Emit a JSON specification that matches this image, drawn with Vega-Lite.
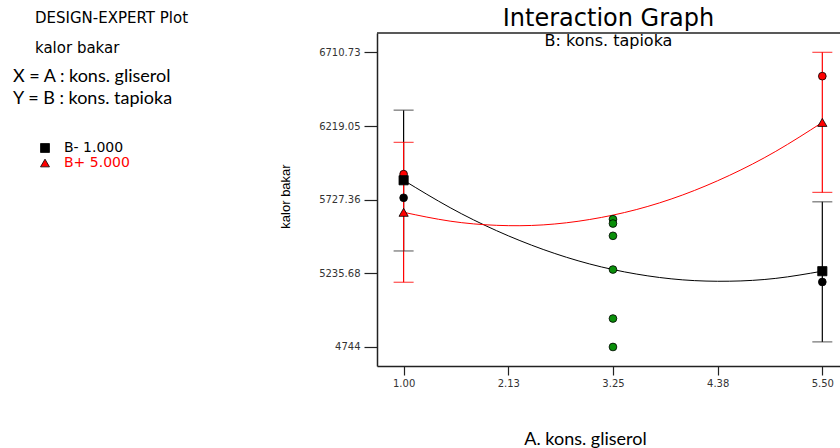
{
  "$schema": "https://vega.github.io/schema/vega-lite/v6.json",
  "width": 463,
  "height": 333,
  "autosize": "none",
  "padding": {"left": 377, "top": 33, "right": 0, "bottom": 82},
  "background": "white",
  "config": {"view": {"stroke": null}, "font": "DejaVu Sans"},
  "title": {
    "text": "Interaction Graph",
    "subtitle": "B: kons. tapioka",
    "anchor": "middle",
    "font": "DejaVu Sans",
    "fontSize": 24,
    "fontWeight": "normal",
    "color": "#000000",
    "subtitleFont": "DejaVu Sans",
    "subtitleFontSize": 16,
    "subtitleColor": "#000000",
    "subtitlePadding": 2,
    "offset": -38
  },
  "datasets": {
    "means": [
      {"A": 1, "B": "B- 1.000", "mean": 5857, "lo": 5385, "hi": 6325},
      {"A": 5.5, "B": "B- 1.000", "mean": 5250, "lo": 4778, "hi": 5713},
      {"A": 1, "B": "B+ 5.000", "mean": 5643, "lo": 5176, "hi": 6110},
      {"A": 5.5, "B": "B+ 5.000", "mean": 6243, "lo": 5776, "hi": 6711}
    ],
    "fit": [
      {"A": 1, "B": "B- 1.000", "kalor": 5857},
      {"A": 1.5, "B": "B- 1.000", "kalor": 5674},
      {"A": 2, "B": "B- 1.000", "kalor": 5520},
      {"A": 2.5, "B": "B- 1.000", "kalor": 5395},
      {"A": 3, "B": "B- 1.000", "kalor": 5298},
      {"A": 3.5, "B": "B- 1.000", "kalor": 5231},
      {"A": 4, "B": "B- 1.000", "kalor": 5192},
      {"A": 4.5, "B": "B- 1.000", "kalor": 5183},
      {"A": 5, "B": "B- 1.000", "kalor": 5202},
      {"A": 5.5, "B": "B- 1.000", "kalor": 5250},
      {"A": 1, "B": "B+ 5.000", "kalor": 5643},
      {"A": 1.5, "B": "B+ 5.000", "kalor": 5584},
      {"A": 2, "B": "B+ 5.000", "kalor": 5556},
      {"A": 2.5, "B": "B+ 5.000", "kalor": 5559},
      {"A": 3, "B": "B+ 5.000", "kalor": 5595},
      {"A": 3.5, "B": "B+ 5.000", "kalor": 5661},
      {"A": 4, "B": "B+ 5.000", "kalor": 5759},
      {"A": 4.5, "B": "B+ 5.000", "kalor": 5889},
      {"A": 5, "B": "B+ 5.000", "kalor": 6050},
      {"A": 5.5, "B": "B+ 5.000", "kalor": 6243}
    ],
    "obs": [
      {"A": 1, "kalor": 5740, "grp": "B-"},
      {"A": 5.5, "kalor": 5178, "grp": "B-"},
      {"A": 1, "kalor": 5898, "grp": "B+"},
      {"A": 5.5, "kalor": 6552, "grp": "B+"},
      {"A": 3.25, "kalor": 5597, "grp": "center"},
      {"A": 3.25, "kalor": 5568, "grp": "center"},
      {"A": 3.25, "kalor": 5486, "grp": "center"},
      {"A": 3.25, "kalor": 5261, "grp": "center"},
      {"A": 3.25, "kalor": 4934, "grp": "center"},
      {"A": 3.25, "kalor": 4744, "grp": "center"}
    ],
    "frame": [{"edge": "top"}]
  },
  "layer": [
    {
      "data": {"name": "fit"},
      "mark": {"type": "line", "interpolate": "natural", "strokeWidth": 1},
      "encoding": {
        "x": {"field": "A", "type": "quantitative", "scale": {"domain": [0.714, 5.69], "nice": false, "zero": false},
          "axis": {"orient": "bottom", "values": [1, 2.125, 3.25, 4.375, 5.5], "format": ".2f", "grid": false,
            "tickSize": 9, "tickColor": "#222222", "tickWidth": 1.2, "domainColor": "#222222", "domainWidth": 1.5,
            "labelFont": "DejaVu Sans", "labelFontSize": 10, "labelColor": "#333333", "labelPadding": 3,
            "title": "A. kons. gliserol", "titleFont": "Lato", "titleFontSize": 18, "titleFontWeight": "normal", "titleColor": "#000000",
            "titleX": 208, "titleY": 78, "titleBaseline": "alphabetic", "titleAlign": "center"}},
        "y": {"field": "kalor", "type": "quantitative", "scale": {"domain": [4617, 6840], "nice": false, "zero": false},
          "axis": {"orient": "left", "values": [4744, 5235.68, 5727.36, 6219.05, 6710.73],
            "labelExpr": "datum.value == 4744 ? '4744' : format(datum.value, '.2f')", "grid": false,
            "tickSize": 13, "tickColor": "#222222", "tickWidth": 1.2, "domainColor": "#222222", "domainWidth": 1.5,
            "labelFont": "DejaVu Sans", "labelFontSize": 10, "labelColor": "#333333", "labelPadding": 4,
            "title": "kalor bakar", "titleFont": "Liberation Sans", "titleFontSize": 13, "titleFontWeight": "normal", "titleColor": "#000000",
            "titleX": -92, "titleY": 163, "titleAngle": -90, "titleAlign": "center", "titleBaseline": "middle"}},
        "detail": {"field": "B"},
        "color": {"condition": {"test": "datum.B === 'B+ 5.000'", "value": "#ff0000"}, "value": "#000000"}
      }
    },
    {
      "data": {"name": "frame"},
      "mark": {"type": "rule", "color": "#222222", "strokeWidth": 1.5},
      "encoding": {
        "y": {"datum": 6840, "type": "quantitative"}
      }
    },
    {
      "data": {"name": "means"},
      "mark": {"type": "rule", "strokeWidth": 1.2},
      "encoding": {
        "x": {"field": "A", "type": "quantitative"},
        "y": {"field": "lo", "type": "quantitative"},
        "y2": {"field": "hi"},
        "color": {"condition": {"test": "datum.B === 'B+ 5.000'", "value": "#ff0000"}, "value": "#000000"}
      }
    },
    {
      "data": {"name": "means"},
      "mark": {"type": "tick", "orient": "horizontal", "size": 20, "thickness": 1.2},
      "encoding": {
        "x": {"field": "A", "type": "quantitative"},
        "y": {"field": "lo", "type": "quantitative"},
        "color": {"condition": {"test": "datum.B === 'B+ 5.000'", "value": "#ff0000"}, "value": "#333333"}
      }
    },
    {
      "data": {"name": "means"},
      "mark": {"type": "tick", "orient": "horizontal", "size": 20, "thickness": 1.2},
      "encoding": {
        "x": {"field": "A", "type": "quantitative"},
        "y": {"field": "hi", "type": "quantitative"},
        "color": {"condition": {"test": "datum.B === 'B+ 5.000'", "value": "#ff0000"}, "value": "#333333"}
      }
    },
    {
      "data": {"name": "obs"},
      "mark": {"type": "point", "filled": true, "shape": "circle", "size": 60, "stroke": "#000000", "strokeWidth": 0.8},
      "encoding": {
        "x": {"field": "A", "type": "quantitative"},
        "y": {"field": "kalor", "type": "quantitative"},
        "fill": {"condition": [
          {"test": "datum.grp === 'B+'", "value": "#ff0000"},
          {"test": "datum.grp === 'center'", "value": "#0a8f0a"}
        ], "value": "#000000"},
        "opacity": {"datum": "design", "type": "ordinal", "scale": {"range": [1, 1]},
          "legend": {"title": ["DESIGN-EXPERT Plot", "kalor bakar"], "orient": "none", "legendX": -342, "legendY": -22,
            "titleFont": "DejaVu Sans", "titleFontSize": 15, "titleFontWeight": "normal", "titleColor": "#000000", "titleLineHeight": 30,
            "labelExpr": "''", "symbolSize": 0, "symbolStrokeWidth": 0, "symbolOpacity": 0}}
      }
    },
    {
      "data": {"name": "means"},
      "mark": {"type": "point", "filled": true, "opacity": 1, "size": 85, "stroke": "#000000", "strokeWidth": 0.8},
      "encoding": {
        "x": {"field": "A", "type": "quantitative"},
        "y": {"field": "mean", "type": "quantitative"},
        "color": {"field": "B", "type": "nominal", "scale": {"domain": ["B- 1.000", "B+ 5.000"], "range": ["#000000", "#ff0000"]},
          "legend": {"title": ["X = A : kons. gliserol", "Y = B : kons. tapioka"], "orient": "none", "legendX": -364, "legendY": 35,
            "titleFont": "Lato", "titleFontSize": 18, "titleFontWeight": "normal", "titleColor": "#000000", "titleLineHeight": 22, "titlePadding": 33,
            "labelFont": "DejaVu Sans", "labelFontSize": 14, "labelOffset": 12, "symbolOffset": 25, "symbolSize": 80, "symbolOpacity": 1,
            "symbolStrokeColor": "#000000", "symbolStrokeWidth": 0.8, "rowPadding": 1,
            "encoding": {"labels": {"fill": {"condition": {"test": "datum.value === 'B+ 5.000'", "value": "#ff0000"}, "value": "#000000"}}}}},
        "shape": {"field": "B", "type": "nominal", "scale": {"domain": ["B- 1.000", "B+ 5.000"], "range": ["square", "triangle-up"]}}
      }
    }
  ]
}
